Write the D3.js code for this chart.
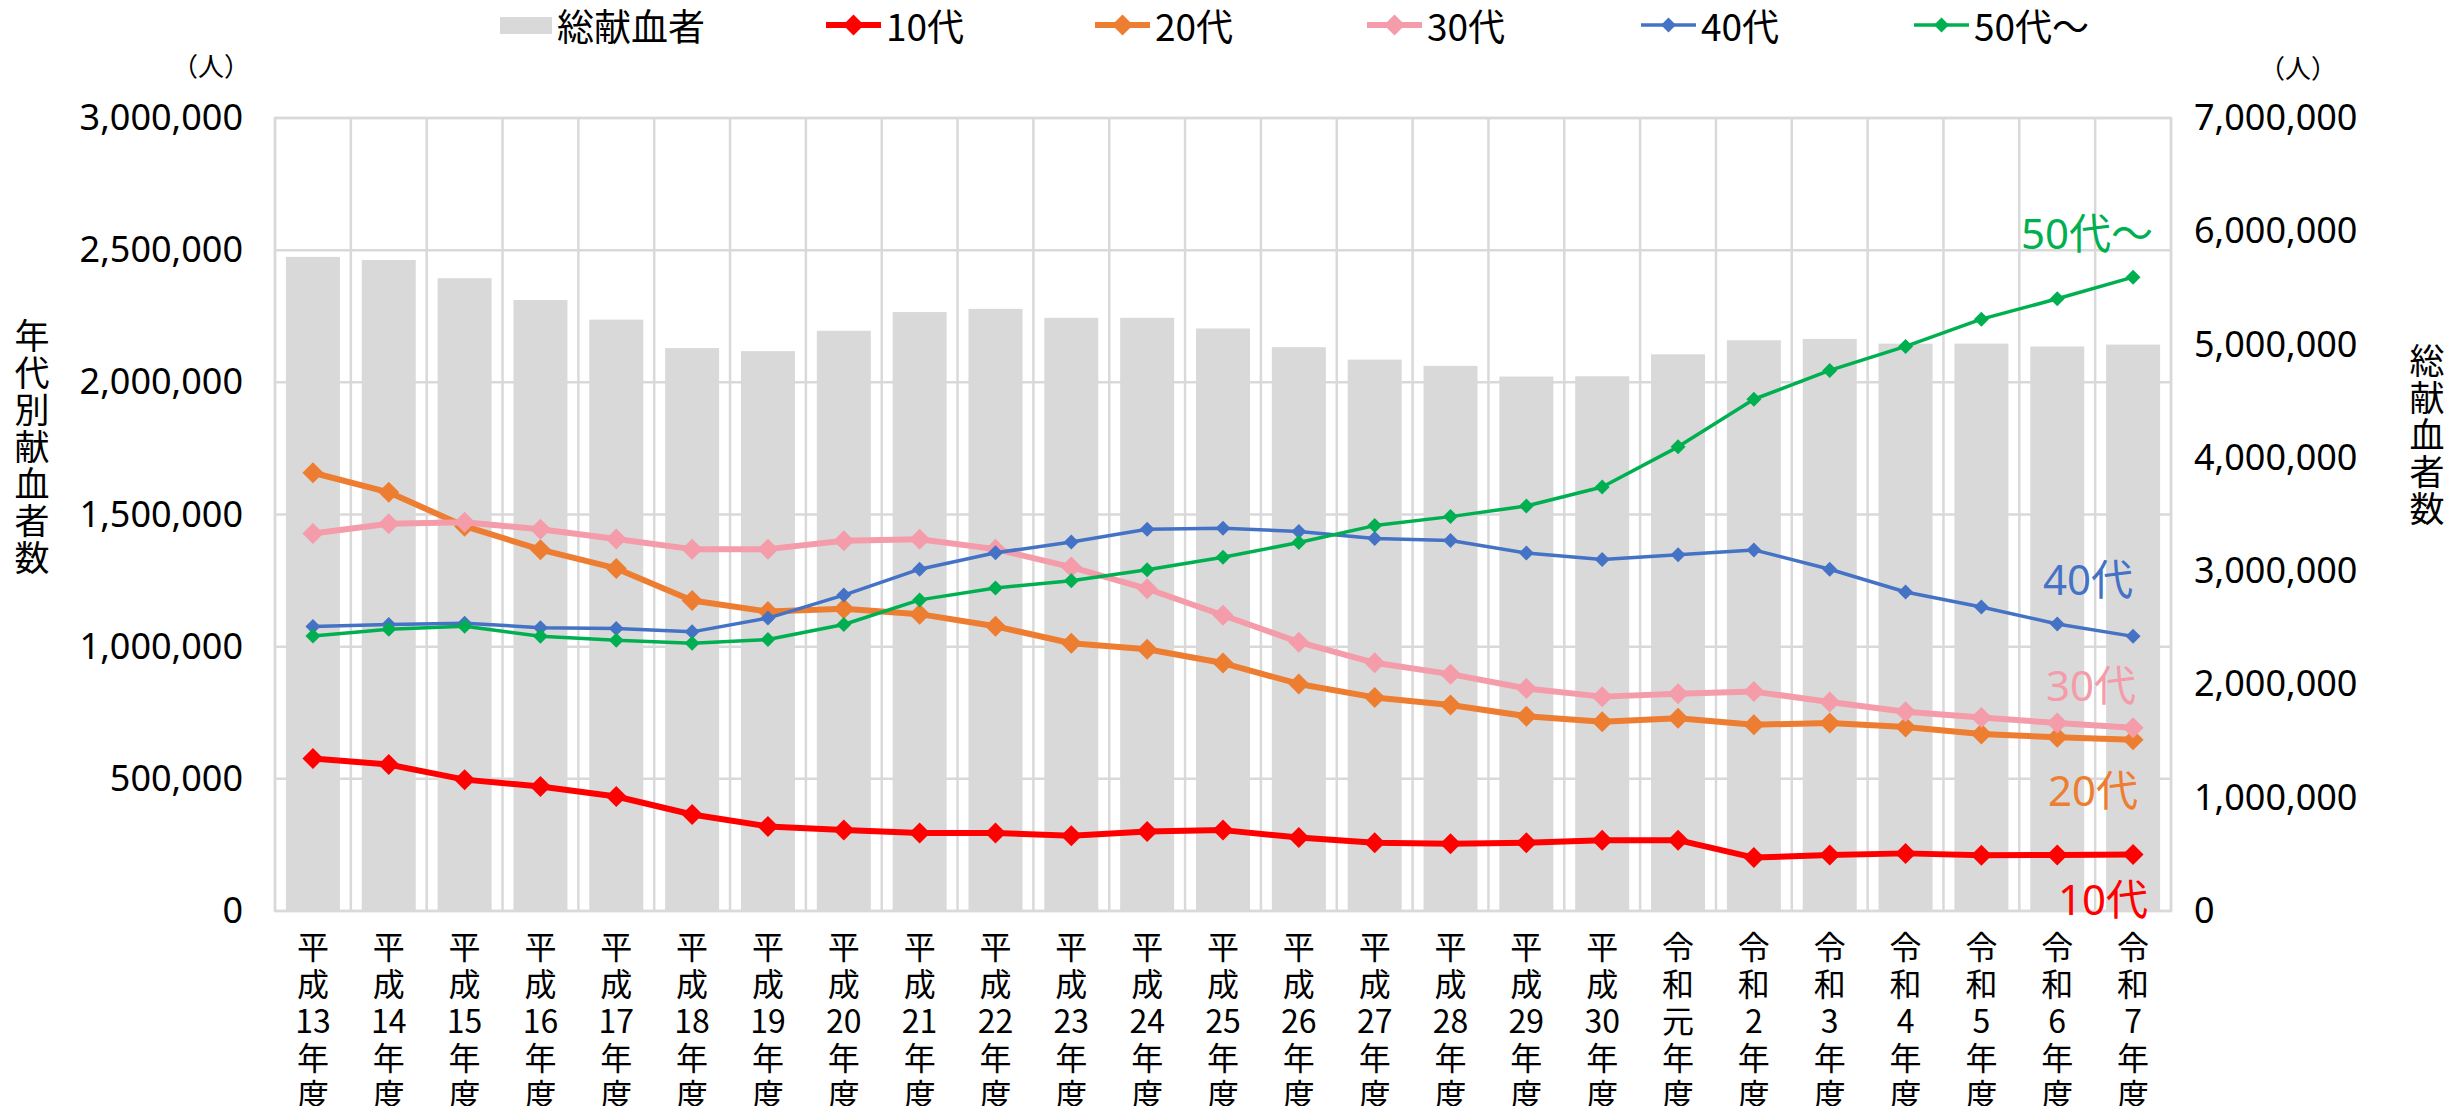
<!DOCTYPE html>
<html lang="ja">
<head>
<meta charset="utf-8">
<title>献血者数の推移</title>
<script src="https://cdn.jsdelivr.net/npm/d3@7"></script>
<style>
  body { margin: 0; background: #fff; }
  svg text { font-family: "Noto Sans", "Noto Sans CJK JP", sans-serif; fill: #000; }
  svg text.jp { font-family: "Noto Sans CJK JP", sans-serif; }
</style>
</head>
<body>
<svg id="chart" width="2463" height="1106"></svg>
<script>
// categories (fiscal years)
var categories = ["平成13年度","平成14年度","平成15年度","平成16年度","平成17年度","平成18年度",
  "平成19年度","平成20年度","平成21年度","平成22年度","平成23年度","平成24年度","平成25年度",
  "平成26年度","平成27年度","平成28年度","平成29年度","平成30年度","令和元年度","令和2年度",
  "令和3年度","令和4年度","令和5年度","令和6年度","令和7年度"];

// total donors (right axis)
var totalDonors = [5774000, 5747000, 5586000, 5393000, 5220000, 4969000, 4942000, 5122000,
  5287000, 5315000, 5236000, 5236000, 5142000, 4977000, 4867000, 4812000, 4718000, 4720000,
  4914000, 5038000, 5050000, 5008000, 5008000, 4983000, 5000000];

// donors by age group (left axis)
var teens = [577000, 554000, 497000, 471000, 433000, 365000, 320000, 306000, 295000, 295000,
  285000, 301000, 306000, 278000, 258000, 254000, 258000, 268000, 268000, 202000, 212000,
  218000, 211000, 212000, 214000];
var twenties = [1658000, 1584000, 1456000, 1367000, 1296000, 1175000, 1133000, 1143000, 1123000,
  1077000, 1013000, 990000, 938000, 859000, 808000, 779000, 737000, 716000, 729000, 705000,
  711000, 696000, 670000, 657000, 648000];
var thirties = [1428000, 1465000, 1471000, 1444000, 1407000, 1369000, 1369000, 1401000, 1406000,
  1369000, 1301000, 1219000, 1119000, 1017000, 939000, 896000, 842000, 811000, 822000, 830000,
  791000, 754000, 732000, 711000, 693000];
var forties = [1076000, 1084000, 1089000, 1072000, 1069000, 1056000, 1108000, 1195000, 1293000,
  1355000, 1396000, 1444000, 1448000, 1436000, 1409000, 1402000, 1354000, 1330000, 1348000,
  1366000, 1293000, 1207000, 1150000, 1086000, 1039000];
var fifties = [1040000, 1066000, 1077000, 1039000, 1024000, 1013000, 1027000, 1084000, 1177000,
  1222000, 1249000, 1291000, 1338000, 1394000, 1458000, 1492000, 1532000, 1604000, 1756000,
  1936000, 2045000, 2136000, 2239000, 2316000, 2398000];

// tick values
var leftTicks = [0, 500000, 1000000, 1500000, 2000000, 2500000, 3000000];
var rightTicks = [0, 1000000, 2000000, 3000000, 4000000, 5000000, 6000000, 7000000];

var seriesNames = ["10代", "20代", "30代", "40代", "50代～"];
var seriesValues = [teens, twenties, thirties, forties, fifties];
var seriesColors = ["#ff0000", "#ed7d31", "#f49ca9", "#4472c4", "#00b050"];
var seriesWidths = [6, 6, 6, 3.5, 3.5];
var markerSizes = [10.5, 10.5, 10.5, 7.5, 7.5];
// where the end labels sit relative to the last point
var labelOffsets = [[15, 44], [5, 50], [3, -43], [0, -58], [20, -45]];

var svg = d3.select("#chart");
var plotLeft = 275, plotRight = 2171, plotTop = 118, plotBottom = 911;
var gridColor = "#d9d9d9";

var x = d3.scaleBand().domain(categories).range([plotLeft, plotRight]).paddingInner(0.288).paddingOuter(0.144);
var yL = d3.scaleLinear().domain([0, 3000000]).range([plotBottom, plotTop]);
var yR = d3.scaleLinear().domain([0, 7000000]).range([plotBottom, plotTop]);
var cx = function(d) { return x(d) + x.bandwidth() / 2; };

svg.append("rect").attr("width", 2463).attr("height", 1106).attr("fill", "#fff");

// gridlines
var grid = svg.append("g");
grid.selectAll(".hgrid").data(leftTicks).enter().append("line")
  .attr("x1", plotLeft).attr("x2", plotRight)
  .attr("y1", function(d) { return yL(d); }).attr("y2", function(d) { return yL(d); })
  .attr("stroke", gridColor).attr("stroke-width", 2.5);
var step = x.step();
grid.selectAll(".vgrid").data(d3.range(categories.length + 1)).enter().append("line")
  .attr("x1", function(i) { return plotLeft + i * step; }).attr("x2", function(i) { return plotLeft + i * step; })
  .attr("y1", plotTop).attr("y2", plotBottom)
  .attr("stroke", gridColor).attr("stroke-width", 2.5);

// bars
svg.append("g").selectAll("rect").data(categories).enter().append("rect")
  .attr("x", function(d) { return x(d); })
  .attr("width", x.bandwidth())
  .attr("y", function(d, i) { return yR(totalDonors[i]); })
  .attr("height", function(d, i) { return plotBottom - yR(totalDonors[i]); })
  .attr("fill", "#d9d9d9");

// axes
var fmt = d3.format(",");
var leftAxis = svg.append("g").attr("transform", "translate(" + plotLeft + ",0)")
  .call(d3.axisLeft(yL).tickValues(leftTicks).tickFormat(fmt).tickSize(0).tickPadding(32));
var rightAxis = svg.append("g").attr("transform", "translate(" + plotRight + ",0)")
  .call(d3.axisRight(yR).tickValues(rightTicks).tickFormat(fmt).tickSize(0).tickPadding(23));
[leftAxis, rightAxis].forEach(function(a) {
  a.select(".domain").remove();
  a.attr("font-family", null).attr("font-size", null);
  a.selectAll("text").attr("font-size", 36).attr("fill", "#000");
});

// x labels, stacked vertically
var xLab = svg.append("g").selectAll("text").data(categories).enter().append("text")
  .attr("class", "jp").attr("font-size", 32).attr("text-anchor", "middle");
xLab.selectAll("tspan").data(function(d) { return d.match(/\d+|./g).map(function(t) { return {t: t, c: d}; }); })
  .enter().append("tspan")
  .attr("x", function(d) { return cx(d.c); })
  .attr("y", function(d, i) { return 945 + i * 37; })
  .attr("dominant-baseline", "central")
  .text(function(d) { return d.t; });

// plot border on top of bars
svg.append("rect").attr("x", plotLeft).attr("y", plotTop).attr("width", plotRight - plotLeft).attr("height", plotBottom - plotTop)
  .attr("fill", "none").attr("stroke", gridColor).attr("stroke-width", 2.5);

// lines
function diamond(r) { return "M0," + (-r) + "L" + r + ",0L0," + r + "L" + (-r) + ",0Z"; }
var line = d3.line().x(function(d, i) { return cx(categories[i]); }).y(function(d) { return yL(d); });

seriesValues.forEach(function(vals, s) {
  var g = svg.append("g");
  g.append("path").datum(vals).attr("d", line).attr("fill", "none")
    .attr("stroke", seriesColors[s]).attr("stroke-width", seriesWidths[s]).attr("stroke-linejoin", "round");
  g.selectAll("path.m").data(vals).enter().append("path").attr("class", "m")
    .attr("transform", function(d, i) { return "translate(" + cx(categories[i]) + "," + yL(d) + ")"; })
    .attr("d", diamond(markerSizes[s])).attr("fill", seriesColors[s]);
  var last = vals.length - 1;
  svg.append("text")
    .attr("x", cx(categories[last]) + labelOffsets[s][0])
    .attr("y", yL(vals[last]) + labelOffsets[s][1])
    .attr("text-anchor", "end").attr("dominant-baseline", "central")
    .attr("font-size", 42).style("fill", seriesColors[s])
    .text(seriesNames[s]);
});

// legend
var legendX = [500, 826, 1095, 1367, 1641, 1914];
var legY = 25;
svg.append("rect").attr("x", legendX[0]).attr("y", legY - 8).attr("width", 52).attr("height", 17).attr("fill", "#d9d9d9");
svg.append("text").attr("class", "jp").attr("x", legendX[0] + 57).attr("y", legY)
  .attr("dominant-baseline", "central").attr("font-size", 37).text("総献血者");
seriesNames.forEach(function(n, s) {
  var lx = legendX[s + 1];
  svg.append("line").attr("x1", lx).attr("x2", lx + 55).attr("y1", legY).attr("y2", legY)
    .attr("stroke", seriesColors[s]).attr("stroke-width", seriesWidths[s]);
  svg.append("path").attr("transform", "translate(" + (lx + 27.5) + "," + legY + ")")
    .attr("d", diamond(markerSizes[s])).attr("fill", seriesColors[s]);
  svg.append("text").attr("class", "jp").attr("x", lx + 60).attr("y", legY)
    .attr("dominant-baseline", "central").attr("font-size", 37).text(n);
});

// unit labels
svg.append("text").attr("class", "jp").attr("x", 211).attr("y", 64).attr("text-anchor", "middle")
  .attr("dominant-baseline", "central").attr("font-size", 26).text("（人）");
svg.append("text").attr("class", "jp").attr("x", 2298).attr("y", 66).attr("text-anchor", "middle")
  .attr("dominant-baseline", "central").attr("font-size", 26).text("（人）");

// axis titles, vertical
function vTitle(str, px, py) {
  svg.append("text").attr("class", "jp").attr("font-size", 35).attr("text-anchor", "middle")
    .selectAll("tspan").data(str.split("")).enter().append("tspan")
    .attr("x", px).attr("y", function(d, i) { return py + i * 37; })
    .attr("dominant-baseline", "central").text(function(d) { return d; });
}
vTitle("年代別献血者数", 32, 333);
vTitle("総献血者数", 2427, 358);
</script>
</body>
</html>
